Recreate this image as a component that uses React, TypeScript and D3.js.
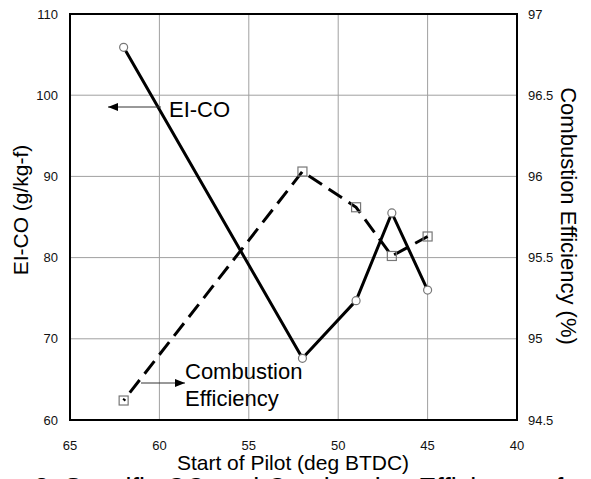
import React from "react";
import * as d3 from "d3";

// Start of pilot injection (deg BTDC)
const startOfPilot = [62, 52, 49, 47, 45];
// Emission index of CO (g/kg-f), left axis
const eiCO = [105.9, 67.6, 74.7, 85.5, 76.0];
// Combustion efficiency (%), right axis
const combustionEff = [94.62, 96.03, 95.81, 95.51, 95.63];

const xTicks = [65, 60, 55, 50, 45, 40];
const leftTicks = [60, 70, 80, 90, 100, 110];
const rightTicks = [94.5, 95, 95.5, 96, 96.5, 97];

const W = 591;
const H = 479;
const FONT = "Arial, 'Liberation Sans', Helvetica, sans-serif";

export default function App() {
  const left = 70, right = 517, top = 14, bottom = 420;
  const x = d3.scaleLinear().domain([65, 40]).range([left, right]);
  const yL = d3.scaleLinear().domain([60, 110]).range([bottom, top]);
  const yR = d3.scaleLinear().domain([94.5, 97]).range([bottom, top]);

  const coLine = d3
    .line<number>()
    .x((_, i) => x(startOfPilot[i]))
    .y((d) => yL(d));
  const effLine = d3
    .line<number>()
    .x((_, i) => x(startOfPilot[i]))
    .y((d) => yR(d));

  return (
    <div style={{ position: "fixed", left: 0, top: 0, width: W, height: H, background: "#fff" }}>
      <svg width={W} height={H} style={{ display: "block", fontFamily: FONT }}>
        <defs>
          <marker id="arrowHead" viewBox="0 0 10 8" refX="10" refY="4" markerWidth="10" markerHeight="8" markerUnits="userSpaceOnUse" orient="auto">
            <path d="M0,0 L10,4 L0,8 Z" fill="#000" />
          </marker>
        </defs>
        <rect width={W} height={H} fill="#fff" />

        {/* grid */}
        {xTicks.map((t) => (
          <line key={"gx" + t} x1={x(t)} x2={x(t)} y1={top} y2={bottom} stroke="#a0a0a0" strokeWidth={1} />
        ))}
        {leftTicks.map((t) => (
          <line key={"gy" + t} x1={left} x2={right} y1={yL(t)} y2={yL(t)} stroke="#a0a0a0" strokeWidth={1} />
        ))}

        {/* plot frame */}
        <rect x={left} y={top} width={right - left} height={bottom - top} fill="none" stroke="#000" strokeWidth={2} />

        {/* tick labels */}
        {leftTicks.map((t) => (
          <text key={"lt" + t} x={58} y={yL(t)} dy="0.35em" textAnchor="end" fontSize={13} fill="#111">
            {t}
          </text>
        ))}
        {rightTicks.map((t) => (
          <text key={"rt" + t} x={528} y={yR(t)} dy="0.35em" textAnchor="start" fontSize={13} fill="#111">
            {t}
          </text>
        ))}
        {xTicks.map((t) => (
          <text key={"xt" + t} x={x(t)} y={445} dy="0.35em" textAnchor="middle" fontSize={13} fill="#111">
            {t}
          </text>
        ))}

        {/* axis titles */}
        <text x={293} y={470} textAnchor="middle" fontSize={21} fill="#000">
          Start of Pilot (deg BTDC)
        </text>
        <text transform={`translate(28,${210}) rotate(-90)`} textAnchor="middle" fontSize={21} fill="#000">
          EI-CO (g/kg-f)
        </text>
        <text transform={`translate(561,${216}) rotate(90)`} textAnchor="middle" fontSize={22} fill="#000">
          Combustion Efficiency (%)
        </text>

        {/* caption line below the chart */}
        <text x={-50} y={497} fontSize={27} fill="#000">
          Figure 2. Specific CO and Combustion Efficiency of
        </text>

        {/* combustion efficiency, dashed */}
        <path d={effLine(combustionEff) ?? ""} fill="none" stroke="#000" strokeWidth={3} strokeDasharray="16,8" strokeDashoffset={-10} />
        {/* EI-CO, solid */}
        <path d={coLine(eiCO) ?? ""} fill="none" stroke="#000" strokeWidth={3} />

        {/* markers */}
        {combustionEff.map((v, i) => (
          <rect key={"sq" + i} x={x(startOfPilot[i]) - 4.5} y={yR(v) - 4.5} width={9} height={9} fill="none" stroke="#777" strokeWidth={1.2} />
        ))}
        {eiCO.map((v, i) => (
          <circle key={"ci" + i} cx={x(startOfPilot[i])} cy={yL(v)} r={4} fill="#fff" stroke="#777" strokeWidth={1.2} />
        ))}

        {/* series annotations */}
        <line x1={161} y1={107} x2={108} y2={107} stroke="#333" strokeWidth={1} markerEnd="url(#arrowHead)" />
        <text x={169} y={117} fontSize={22} fill="#000">EI-CO</text>

        <line x1={141} y1={383} x2={185} y2={383} stroke="#333" strokeWidth={1} markerEnd="url(#arrowHead)" />
        <text x={185} y={379} fontSize={22} fill="#000">Combustion</text>
        <text x={185} y={406} fontSize={22} fill="#000">Efficiency</text>
      </svg>
    </div>
  );
}
